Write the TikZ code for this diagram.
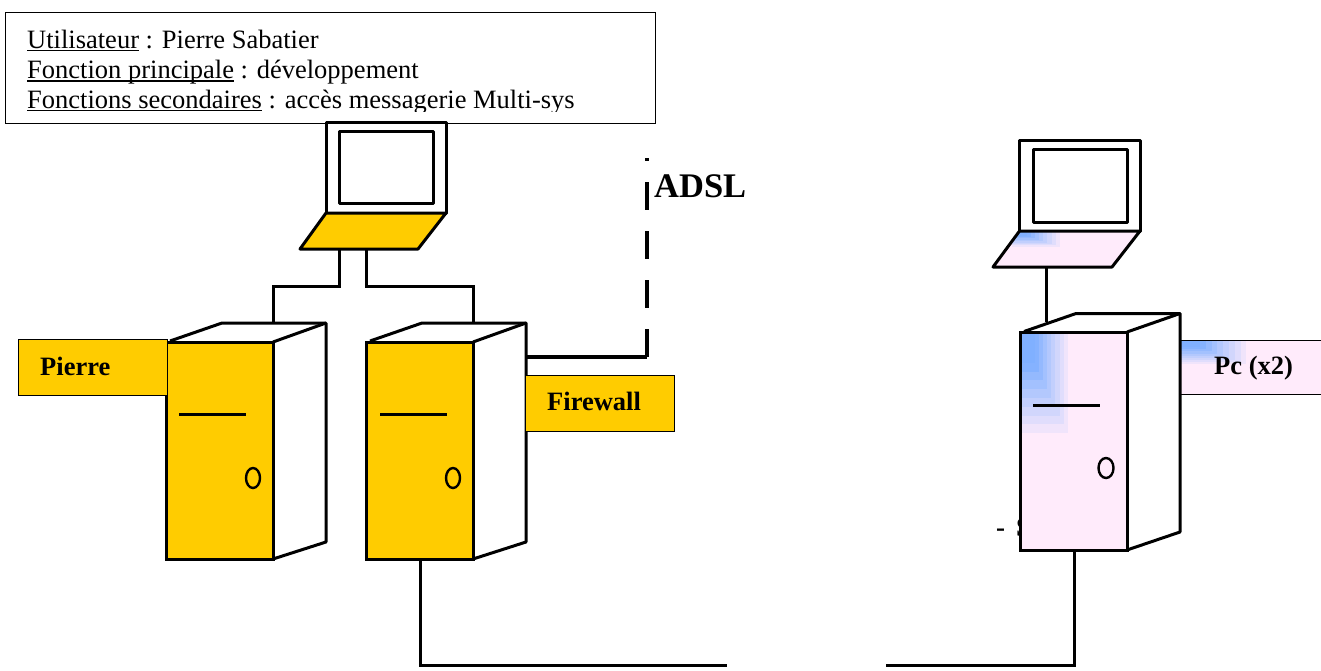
\documentclass[tikz,border=0pt]{standalone}
\usepackage{fontspec}
\setmainfont{Liberation Serif}
\definecolor{gold}{HTML}{FFCC00}
\definecolor{rose}{HTML}{FFEBFB}
\definecolor{azur}{HTML}{80B0FF}
\newcommand\ulx[1]{\setbox0\hbox{#1}\rlap{\vrule width\wd0 height -1.6pt depth 3pt}\box0\relax}
\newcommand\fade[4]{%
  \foreach \t in {1,0.92,...,0.1}{
    \pgfmathsetmacro\pct{min(100,150*(1-\t))}
    \fill[azur!\pct!rose] (#1,#2) rectangle ++({#3*\t},{#4*\t});
  }}
\tikzset{
  x=1pt,y=-1pt,
  wire/.style={line width=3pt,line cap=butt,line join=miter},
  body/.style={line width=3pt,line join=round},
  front/.style={draw=black,line width=3pt,outer sep=0pt,minimum width=107pt,minimum height=217pt,inner sep=0pt,anchor=north west},
  tag/.style={draw=black,line width=1pt,outer sep=0pt,minimum width=149pt,minimum height=56pt,inner sep=0pt,anchor=north west,fill=gold},
  tagtext/.style={font=\fontsize{26.5}{28}\selectfont\bfseries,inner sep=0pt,anchor=base west},
  infotext/.style={font=\fontsize{26.5}{28}\selectfont,anchor=base west,inner sep=0pt},
}
\begin{document}
\begin{tikzpicture}
\useasboundingbox (0,0) rectangle (1321,670);
\fill[white] (0,0) rectangle (1321,670);

% info box
\node[draw=black,line width=1pt,outer sep=0pt,anchor=north west,minimum width=650pt,minimum height=111pt,inner sep=0pt] (info) at (5,12.5) {};
\begin{scope}
\clip (6,14) rectangle (654,111.5);
\node[infotext] (l1) at (27,48) {\ulx{Utilisateur} : Pierre Sabatier};
\node[infotext] (l2) at (27,78.5) {\ulx{Fonction principale} : développement};
\node[infotext] (l3) at (27,108) {\ulx{Fonctions secondaires} : accès messagerie Multi-sys};
\end{scope}

% coordinates for wires
\coordinate (w1a) at (339.5,249);
\coordinate (w1b) at (273,323);
\coordinate (w2a) at (366,249);
\coordinate (w2b) at (473,323);
\coordinate (wf) at (527,357);
\coordinate (wfc) at (647,357);
\coordinate (wft) at (647,158);
\coordinate (wb1) at (420,559);
\coordinate (wb2) at (727,665.5);
\coordinate (wb3) at (886,665.5);
\coordinate (wb4) at (1074,550);
\coordinate (wl) at (1046,267);
\coordinate (wl2) at (1046,322);

\draw[wire] (w1a) -- (339.5,286) -| (w1b);
\draw[wire] (w2a) -- (366,286) -| (w2b);
\draw[line width=4pt,line cap=butt,line join=miter] (wf) -- (wfc);
\draw[line width=4pt,line cap=butt,dash pattern=on 3pt off 21pt on 28pt off 21pt on 28pt off 21pt on 28pt off 21pt on 28pt] (wft) -- (wfc);
\node[anchor=base west,inner sep=0pt,font=\fontsize{34.5}{36}\selectfont\bfseries] (adsl) at (654,197) {ADSL};
\draw[wire] (wb1) |- (wb2);
\draw[wire] (wb4) |- (wb3);
\draw[wire] (wl) -- (wl2);

% left laptop
\draw[body] (326,122) rectangle (446,213);
\draw[body] (339,131) rectangle (433,203);
\draw[body,fill=gold] (326,213) -- (446,213) -- (418,249) -- (300,249) -- cycle;

% left server
\draw[body] (170,341) -- (222,323) -- (326,323) -- (326,542) -- (273,559);
\draw[body] (273,342) -- (326,323);
\node[front,fill=gold] (s1) at (166.5,342) {};
\draw[wire] (179,414) -- (246,414);
\draw[line width=2.4pt] (253,478) ellipse (7 and 10);
\node[tag] (pierre) at (18.5,339) {};
\node[tagtext] (pierret) at (40,375) {Pierre};

% firewall server
\draw[body] (370,341) -- (422,323) -- (526,323) -- (526,542) -- (473,559);
\draw[body] (473,342) -- (526,323);
\node[front,fill=gold] (s2) at (366.5,342) {};
\draw[wire] (380,414) -- (447,414);
\draw[line width=2.4pt] (453,478) ellipse (7 and 10);
\node[tag] (fw) at (525.5,375.5) {};
\node[tagtext] (fwt) at (547,410.5) {Firewall};

% right laptop
\draw[body] (1019.5,140) rectangle (1140,231);
\draw[body] (1033,149) rectangle (1127,222);
\begin{scope}
\clip (1019.5,231) -- (1140,231) -- (1112,267) -- (993,267) -- cycle;
\fill[rose] (990,231) rectangle (1140,267);
\fade{1012}{231}{52}{17}
\end{scope}
\draw[body] (1019.5,231) -- (1140,231) -- (1112,267) -- (993,267) -- cycle;

% hidden text
\node[anchor=base west,inner sep=0pt,font=\fontsize{27}{29}\selectfont\bfseries] (dash) at (996,536) {-\kern11pt S};

% right tag
\fill[rose] (1180,340) rectangle (1321,394);
\begin{scope}
\clip (1180,340) rectangle (1321,394);
\fade{1180}{340}{72}{26}
\end{scope}
\draw[line width=1pt] (1180,340) -- (1321,340);
\draw[line width=1pt] (1180,394) -- (1321,394);
\node[tagtext] (pc) at (1214,374) {Pc (x2)};

% right server
\draw[body] (1024,331.5) -- (1076,313.5) -- (1180,313.5) -- (1180,532) -- (1127,550);
\draw[body] (1127,332) -- (1180,313.5);
\node[front,fill=rose,minimum height=218pt] (s3) at (1020,332) {};
\begin{scope}
\clip (1020,332) rectangle (1127,550);
\fade{1020}{332}{52}{110}
\end{scope}
\draw[body] (1020,332) rectangle (1127,550);
\draw[wire] (1033,405) -- (1100,405);
\draw[line width=2.4pt] (1106,468) ellipse (7.5 and 10);
\end{tikzpicture}
\end{document}
